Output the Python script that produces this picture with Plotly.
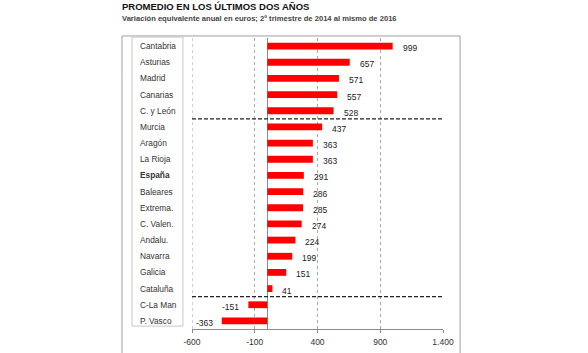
import plotly.graph_objects as go

categories = ["Cantabria", "Asturias", "Madrid", "Canarias", "C. y León", "Murcia",
              "Aragón", "La Rioja", "España", "Baleares", "Extrema.", "C. Valen.",
              "Andalu.", "Navarra", "Galicia", "Cataluña", "C-La Man", "P. Vasco"]
values = [999, 657, 571, 557, 528, 437, 363, 363, 291, 286, 285, 274, 224, 199, 151, 41, -151, -363]
tick_vals = [-600, -100, 400, 900, 1400]
tick_text = ["-600", "-100", "400", "900", "1.400"]
separators_after = [4, 15]  # dashed lines after these category indices

FONT = "Liberation Sans, Arial, sans-serif"
GRID = "#a8a8a8"

fig = go.Figure()
fig.add_trace(go.Bar(
    x=values, y=categories, orientation="h",
    marker=dict(color="#ff0000", line=dict(width=0)),
    width=0.42, hoverinfo="skip",
))

annotations = []
for c, v in zip(categories, values):
    annotations.append(dict(
        x=v, y=c, xref="x", yref="y", text=str(v), showarrow=False,
        xanchor="left" if v >= 0 else "right",
        xshift=8 if v >= 0 else -7, yshift=-2,
        font=dict(family=FONT, size=8.5, color="#1a1a1a"),
    ))
    annotations.append(dict(
        x=-0.215, y=c, xref="paper", yref="y",
        text=("<b>%s</b>" % c) if c == "España" else c,
        showarrow=False, xanchor="left",
        font=dict(family=FONT, size=8.3, color="#333333"),
    ))

annotations.append(dict(
    x=-0.287, y=1.0, xref="paper", yref="paper", yanchor="top",
    yshift=39, xanchor="left", showarrow=False,
    text="<b>PROMEDIO EN LOS ÚLTIMOS DOS AÑOS</b>",
    font=dict(family=FONT, size=9.5, color="#111111"),
))
annotations.append(dict(
    x=-0.287, y=1.0, xref="paper", yref="paper", yanchor="top",
    yshift=26, xanchor="left", showarrow=False,
    text="<b>Variación equivalente anual en euros; 2º trimestre de 2014 al mismo de 2016</b>",
    font=dict(family=FONT, size=7.6, color="#444444"),
))

shapes = [
    # outer frame
    dict(type="rect", xref="paper", yref="paper", x0=-0.279, x1=1.068, y0=-0.12, y1=1.007,
         line=dict(color="#a0a0a0", width=1), layer="below"),
    # label box
    dict(type="rect", xref="paper", yref="paper", x0=-0.239, x1=-0.036, y0=0.010, y1=1.003,
         line=dict(color="#c8c8c8", width=1), layer="below"),
    # left-edge grid line at -600
    dict(type="line", xref="x", yref="paper", x0=tick_vals[0], x1=tick_vals[0], y0=0, y1=1,
         line=dict(color=GRID, width=1, dash="dot"), layer="below"),
]
for idx in separators_after:
    shapes.append(dict(type="line", xref="paper", yref="y", x0=0, x1=1,
                       y0=idx + 0.5, y1=idx + 0.5,
                       line=dict(color="#222222", width=1.3, dash="4px,2px")))

fig.update_layout(
    width=588, height=353,
    margin=dict(l=192, r=145, t=38, b=24, autoexpand=False),
    paper_bgcolor="white", plot_bgcolor="white",
    showlegend=False, bargap=0.5,
    annotations=annotations, shapes=shapes,
    font=dict(family=FONT),
)
fig.update_xaxes(
    range=[-600, 1400], tickvals=tick_vals, ticktext=tick_text,
    automargin=False,
    showgrid=True, gridcolor=GRID, griddash="dot", gridwidth=1,
    zeroline=True, zerolinecolor="#8c8c8c", zerolinewidth=1,
    showline=True, linecolor="#8c8c8c", linewidth=1,
    ticks="outside", ticklen=3, tickcolor="#8c8c8c",
    ticklabelstandoff=2,
    tickfont=dict(family=FONT, size=8.5, color="#333333"),
)
fig.update_yaxes(
    range=[17.5, -0.5], showticklabels=False, showgrid=False, zeroline=False,
    showline=False, ticks="", automargin=False,
)

fig.write_html("out.html")
